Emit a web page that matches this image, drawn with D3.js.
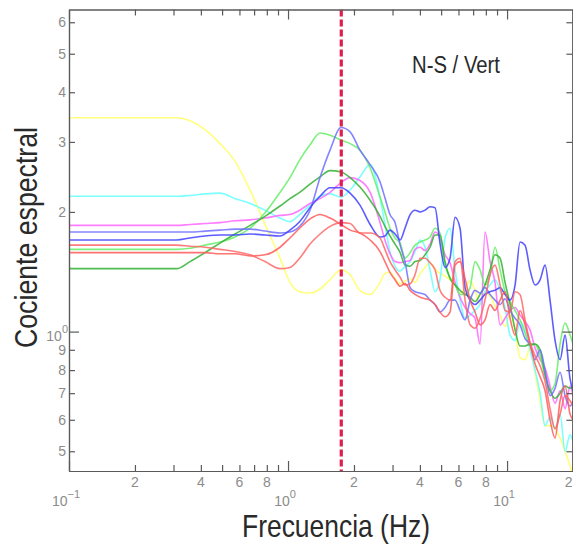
<!DOCTYPE html>
<html><head><meta charset="utf-8">
<script src="https://cdn.jsdelivr.net/npm/d3@7"></script>
<style>body{margin:0;background:#fff}svg{display:block}</style>
</head><body><svg id="c" width="573" height="546"></svg>
<script>
// ---- data ----
const freq = [0.1, 0.31, 0.357, 0.418, 0.489, 0.573, 0.671, 0.785, 0.919, 1.02, 1.13, 1.26, 1.40, 1.555, 1.746, 1.92, 2.13, 2.37, 2.63, 2.77, 2.92, 3.08, 3.25, 3.42, 3.61, 3.80, 4.01, 4.22, 4.45, 4.69, 4.94, 5.21, 5.49, 5.79, 6.10, 6.43, 6.78, 7.14, 7.53, 7.93, 8.36, 8.81, 9.29, 9.79, 10.32, 10.88, 11.46, 12.08, 12.73, 13.42, 14.15, 14.91, 15.71, 16.56, 17.46, 18.40, 19.39, 20];

const yellowVals = [3.45,3.45,3.39,3.22,2.97,2.68,2.27,1.86,1.53,1.33,1.26,1.25,1.28,1.35,1.43,1.39,1.27,1.24,1.33,1.40,1.41,1.36,1.32,
  1.34,1.36,1.33,1.40,1.45,1.49,1.44,1.40,1.38,1.35,1.31,1.25,1.29,1.34,1.27,1.17,1.25,1.23,1.16,1.10,1.03,1.11,1.01,0.86,0.85,0.91,0.79,0.67,0.58,0.58,0.57,0.54,0.50,0.46,0.43];
const cyanVals = [2.19,2.19,2.20,2.22,2.23,2.16,2.10,2.02,1.93,1.89,1.97,2.08,2.19,2.22,2.18,2.27,2.45,2.63,2.17,1.86,1.59,1.46,1.42,
  1.46,1.50,1.59,1.70,1.63,1.43,1.26,1.35,1.72,1.82,1.43,1.20,1.08,1.10,1.13,1.17,1.26,1.31,1.35,1.27,1.15,0.98,0.95,1.06,1.01,0.90,0.80,0.70,0.58,0.61,0.57,0.62,0.50,0.55,0.53];
const magentaVals = [1.85,1.85,1.86,1.87,1.88,1.90,1.91,1.93,1.96,1.97,2.02,2.10,2.16,2.24,2.37,2.44,2.40,2.24,1.88,1.70,1.57,1.50,1.49,
  1.50,1.51,1.61,1.63,1.60,1.66,1.78,1.72,1.56,1.49,1.33,1.22,1.15,1.11,1.08,0.93,1.78,1.50,1.33,1.04,1.08,1.13,1.15,1.10,1.06,1.01,0.91,0.85,0.81,0.73,0.66,0.71,0.64,0.73,0.69];
const greenLightVals = [1.61,1.61,1.62,1.65,1.68,1.73,1.82,1.99,2.24,2.44,2.70,2.95,3.16,3.12,3.03,2.97,2.86,2.58,2.18,2.00,1.82,1.72,1.67,
  1.53,1.58,1.65,1.68,1.70,1.73,1.82,1.77,1.47,1.37,1.31,1.24,1.24,1.29,1.50,1.43,1.31,1.39,1.63,1.43,1.26,1.19,1.13,1.07,0.99,0.92,0.93,0.87,0.77,0.71,0.74,0.93,1.05,0.98,0.93];
const greenDarkVals = [1.44,1.44,1.50,1.58,1.67,1.76,1.85,1.95,2.07,2.16,2.24,2.35,2.45,2.54,2.52,2.44,2.31,2.14,1.95,1.84,1.74,1.66,1.58,
  1.47,1.46,1.50,1.51,1.56,1.63,1.75,1.75,1.50,1.36,1.31,1.27,1.24,1.22,1.19,1.24,1.31,1.43,1.56,1.53,1.33,1.17,1.01,0.92,0.92,0.93,0.93,0.90,0.78,0.71,0.68,0.70,0.73,0.72,0.73];
const blueLightVals = [1.78,1.78,1.78,1.79,1.80,1.81,1.81,1.79,1.77,1.78,1.84,2.02,2.44,2.86,3.26,3.18,2.86,2.63,2.38,2.17,1.97,1.88,1.65,
  1.50,1.29,1.26,1.25,1.24,1.20,1.17,1.12,1.15,1.20,1.20,1.13,1.07,1.20,1.27,1.25,1.29,1.24,1.20,1.17,1.21,1.13,1.08,1.04,0.96,0.93,0.85,0.90,0.80,0.69,0.72,0.79,0.69,0.65,0.67];
const blueDarkVals = [1.70,1.70,1.72,1.74,1.75,1.75,1.76,1.75,1.74,1.80,1.89,2.05,2.19,2.30,2.30,2.23,2.08,1.86,1.73,1.74,1.80,1.76,1.70,
  1.82,1.97,2.02,2.00,2.02,2.06,2.05,1.67,1.45,1.53,1.94,1.82,1.29,1.20,1.17,1.20,1.24,1.26,1.27,1.29,1.24,1.20,1.31,1.68,1.65,1.43,1.31,1.35,1.47,1.20,0.95,0.85,0.98,0.76,0.71];
const redAVals = [1.65,1.65,1.64,1.63,1.61,1.59,1.56,1.50,1.44,1.45,1.53,1.66,1.76,1.84,1.88,1.87,1.77,1.77,1.72,1.61,1.50,1.43,1.37,
  1.31,1.32,1.39,1.53,1.53,1.49,1.43,1.27,1.22,1.20,1.50,1.53,1.20,1.04,1.02,1.08,1.20,1.39,1.47,1.31,1.13,1.12,1.26,1.24,1.07,0.94,0.87,0.82,0.75,0.64,0.57,0.62,0.69,0.67,0.65];
const redBVals = [1.58,1.58,1.58,1.58,1.57,1.57,1.55,1.56,1.63,1.72,1.82,1.92,1.97,1.93,1.86,1.80,1.77,1.70,1.59,1.50,1.41,1.35,1.30,
  1.32,1.27,1.24,1.22,1.21,1.20,1.17,1.12,1.09,1.12,1.47,1.50,1.36,1.20,1.12,1.04,1.07,1.17,1.13,1.20,1.26,1.08,0.98,1.13,1.04,0.93,0.83,0.77,0.71,0.60,0.54,0.67,0.73,0.62,0.60];

const seriesNames = ['yellow','cyan','magenta','greenLight','greenDark','blueLight','blueDark','redA','redB'];
const seriesValues = [yellowVals, cyanVals, magentaVals, greenLightVals, greenDarkVals, blueLightVals, blueDarkVals, redAVals, redBVals];
const seriesColors = ['#ffff66','#66ffff','#ff66ff','#66ee66','#33b033','#7070ff','#4040ff','#ff6666','#ff5a5a'];

const peakFreq = 1.75;
const titleText = 'N-S / Vert';
const xLabelText = 'Frecuencia (Hz)';
const yLabelText = 'Cociente espectral';

const xMinorTicks = [0.2,0.3,0.4,0.5,0.6,0.7,0.8,0.9,2,3,4,5,6,7,8,9,20];
const xMajorTicks = [0.1,1,10];
const xMinorLabels = [[0.2,'2'],[0.4,'4'],[0.6,'6'],[0.8,'8'],[2,'2'],[4,'4'],[6,'6'],[8,'8'],[20,'2']];
const xMajorLabels = [[0.1,'\u22121'],[1,'0'],[10,'1']];
const yMinorTicks = [0.5,0.6,0.7,0.8,0.9,2,3,4,5,6];
const yMajorTicks = [1];
const yMinorLabels = [[0.5,'5'],[0.6,'6'],[0.7,'7'],[0.8,'8'],[0.9,'9'],[2,'2'],[3,'3'],[4,'4'],[5,'5'],[6,'6']];
const yMajorLabels = [[1,'0']];

// ---- layout ----
const L = 69, R = 573, T = 9.5, B = 471;
const svg = d3.select('#c');
const x = d3.scaleLog().domain([0.1, 20]).range([L, R]);
const y = d3.scaleLog().domain([0.446, 6.46]).range([B, T]);

svg.append('rect').attr('width',573).attr('height',546).attr('fill','#fff');
svg.append('defs').append('clipPath').attr('id','clip')
  .append('rect').attr('x',L).attr('y',T).attr('width',R-L).attr('height',B-T);

const axisColor = '#5a5a5a';
const labelColor = '#8c8c8c';
const font = "'Liberation Sans', Arial, sans-serif";

// lines
const plot = svg.append('g').attr('clip-path','url(#clip)');
const line = d3.line().x(d=>x(d[0])).y(d=>y(d[1])).curve(d3.curveMonotoneX);
seriesValues.forEach((vals,i)=>{
  plot.append('path').datum(freq.map((f,j)=>[f,vals[j]]))
    .attr('d',line).attr('fill','none').attr('stroke',seriesColors[i])
    .attr('stroke-width',1.6).attr('stroke-opacity',0.85).attr('stroke-linejoin','round');
});

// dashed peak line
plot.append('line').attr('x1',x(peakFreq)).attr('x2',x(peakFreq)).attr('y1',T).attr('y2',B)
  .attr('stroke','#dc1e50').attr('stroke-width',3.2).attr('stroke-dasharray','7,3');

// axes
function styleAxis(g){
  g.selectAll('path.domain').attr('stroke',axisColor).attr('stroke-width',1.2);
  g.selectAll('.tick line').attr('stroke',axisColor).attr('stroke-width',1.2);
  g.selectAll('.tick text').remove();
}
const mk = (ax, ticks, size) => ax.tickValues(ticks).tickSizeInner(size).tickSizeOuter(0).tickFormat('');
svg.append('g').attr('transform',`translate(0,${B})`).call(mk(d3.axisBottom(x), xMinorTicks, -6)).call(styleAxis);
svg.append('g').attr('transform',`translate(0,${B})`).call(mk(d3.axisBottom(x), xMajorTicks, -10)).call(styleAxis);
svg.append('g').attr('transform',`translate(0,${T})`).call(mk(d3.axisTop(x), xMinorTicks, -6)).call(styleAxis);
svg.append('g').attr('transform',`translate(0,${T})`).call(mk(d3.axisTop(x), xMajorTicks, -10)).call(styleAxis);
svg.append('g').attr('transform',`translate(${L},0)`).call(mk(d3.axisLeft(y), yMinorTicks, -6)).call(styleAxis);
svg.append('g').attr('transform',`translate(${L},0)`).call(mk(d3.axisLeft(y), yMajorTicks, -10)).call(styleAxis);
svg.append('g').attr('transform',`translate(${R-0.6},0)`).call(mk(d3.axisRight(y), yMinorTicks, -6)).call(styleAxis);
svg.append('g').attr('transform',`translate(${R-0.6},0)`).call(mk(d3.axisRight(y), yMajorTicks, -10)).call(styleAxis);

// tick labels
const lab = svg.append('g').attr('font-family',font).attr('fill',labelColor);
xMinorLabels.forEach(([v,t])=>{
  const atEdge = x(v) > R - 4;
  lab.append('text').attr('x',atEdge ? R - 0.5 : x(v)).attr('y',487)
    .attr('text-anchor',atEdge ? 'end' : 'middle').attr('font-size',14).text(t);
});
xMajorLabels.forEach(([v,t])=>{
  const tx = lab.append('text').attr('x',x(v)-3).attr('y',506).attr('text-anchor','middle').attr('font-size',14);
  tx.append('tspan').text('10');
  tx.append('tspan').attr('dy',-8).attr('font-size',11).text(t);
});
yMinorLabels.forEach(([v,t])=>{
  lab.append('text').attr('x',66).attr('y',y(v)+5).attr('text-anchor','end').attr('font-size',14).text(t);
});
yMajorLabels.forEach(([v,t])=>{
  const tx = lab.append('text').attr('x',68).attr('y',y(v)+9).attr('text-anchor','end').attr('font-size',14);
  tx.append('tspan').text('10');
  tx.append('tspan').attr('dy',-8).attr('font-size',11).text(t);
});

// titles
svg.append('text').attr('x',412).attr('y',73).attr('font-family',font).attr('font-size',23)
  .attr('fill','#2a2a2a').attr('textLength',88).attr('lengthAdjust','spacingAndGlyphs').text(titleText);
svg.append('text').attr('x',242).attr('y',537).attr('font-family',font).attr('font-size',32)
  .attr('fill','#2a2a2a').attr('textLength',188).attr('lengthAdjust','spacingAndGlyphs').text(xLabelText);
svg.append('text').attr('transform','translate(37,348) rotate(-90)').attr('font-family',font).attr('font-size',31)
  .attr('fill','#2a2a2a').attr('textLength',221).attr('lengthAdjust','spacingAndGlyphs').text(yLabelText);
</script></body></html>
